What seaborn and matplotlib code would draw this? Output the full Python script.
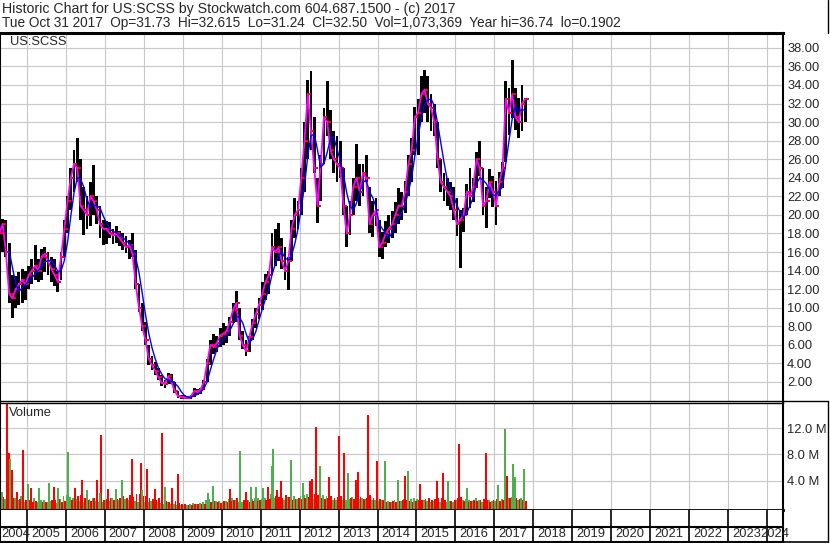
import pandas as pd
import matplotlib
matplotlib.use("Agg")
import matplotlib.pyplot as plt
from matplotlib.lines import Line2D
import seaborn as sns

# monthly bars, Apr 2004 .. Oct 2017
months = pd.period_range("2004-04", "2017-10", freq="M")

low = [
    15.5, 16.0, 15.5, 10.5, 8.9, 10.0, 10.3, 10.5, 10.8,
    12.0, 12.5, 13.0, 12.8, 13.0, 13.8, 13.5, 12.8, 12.3, 11.7, 13.0, 15.5,
    18.0, 20.5, 22.5, 23.5, 19.5, 17.8, 18.5, 18.8, 20.0, 19.0, 17.5, 16.8,
    16.9, 17.5, 16.9, 17.0, 16.6, 16.2, 15.9, 15.3, 15.5, 12.0, 9.5, 7.5,
    6.0, 3.8, 3.3, 2.8, 2.2, 1.6, 1.3, 1.8, 1.8, 0.8, 0.3, 0.2,
    0.19, 0.2, 0.2, 0.4, 0.6, 0.7, 1.1, 2.0, 3.8, 5.0, 5.2, 5.8,
    6.0, 6.2, 7.0, 8.3, 8.5, 6.5, 5.5, 4.8, 5.2, 6.5, 7.8, 8.8,
    9.8, 10.8, 11.5, 13.5, 14.5, 15.0, 14.2, 13.0, 11.9, 15.0, 17.5, 18.5,
    20.0, 22.5, 26.0, 27.0, 24.5, 19.1, 21.5, 25.5, 28.5, 26.0, 24.5, 23.5,
    24.0, 20.0, 16.5, 17.8, 20.0, 21.5, 21.0, 22.0, 23.5, 18.0, 17.6, 18.8,
    15.5, 15.3, 16.5, 17.0, 17.5, 18.0, 19.0, 19.5, 20.2, 22.0, 23.5, 26.5,
    26.5, 30.0, 31.0, 30.0, 29.0, 28.5, 25.0, 22.5, 21.5, 21.0, 20.5, 19.5,
    17.7, 14.3, 18.2, 20.0, 20.7, 21.4, 22.9, 24.2, 20.0, 18.6, 21.8, 20.8,
    18.9, 22.0, 22.9, 25.7, 28.6, 30.4, 29.2, 28.3, 29.0, 30.0,
]
high = [
    19.0, 19.6, 19.4, 17.0, 13.5, 13.4, 13.8, 14.2, 14.0,
    14.5, 15.2, 16.8, 15.3, 16.3, 16.5, 16.0, 15.5, 15.2, 14.0, 16.0, 19.5,
    22.0, 25.0, 27.0, 28.3, 26.0, 23.0, 22.0, 23.5, 25.4, 22.0, 21.0, 19.5,
    19.3, 19.2, 18.5, 18.8, 18.3, 18.0, 17.7, 17.3, 18.0, 16.2, 12.5, 10.5,
    8.5, 6.0, 4.8, 4.2, 3.5, 2.8, 2.2, 3.0, 2.9, 2.0, 1.0, 0.6,
    0.6, 0.5, 0.6, 1.4, 1.2, 1.4, 2.2, 4.5, 6.5, 7.2, 7.0, 7.8,
    8.3, 8.0, 9.0, 10.5, 11.8, 10.0, 7.5, 6.5, 7.0, 8.8, 10.0, 11.0,
    12.8, 13.6, 14.0, 18.0, 18.5, 19.1, 17.5, 16.5, 15.5, 19.5, 21.8, 21.5,
    25.0, 30.0, 34.5, 35.5, 30.5, 24.0, 26.5, 31.5, 34.4, 31.3, 29.0, 28.5,
    28.0, 25.0, 21.0, 21.5, 24.0, 27.6, 25.5, 25.5, 26.5, 23.0, 21.5, 21.8,
    19.5, 18.2, 19.3, 20.0, 20.4, 21.4, 22.9, 22.5, 23.6, 26.5, 28.3, 31.6,
    32.5, 35.0, 35.6, 35.0, 33.0, 32.0, 30.0, 26.0, 24.5, 24.0, 23.5, 23.0,
    21.8, 20.5, 20.7, 23.3, 25.0, 24.0, 26.8, 28.0, 25.0, 23.0, 24.9, 24.2,
    23.6, 24.6, 25.7, 34.4, 33.7, 36.74, 33.7, 32.6, 34.0, 32.6,
]
close = [
    18.0, 19.0, 16.0, 11.5, 11.0, 12.0, 12.5, 13.0, 12.5,
    13.5, 14.0, 14.5, 14.0, 15.5, 15.8, 15.0, 14.2, 13.5, 12.8, 15.5, 18.5,
    21.5, 24.0, 25.5, 25.0, 21.0, 20.5, 20.0, 22.0, 21.5, 20.5, 19.0, 18.5,
    18.5, 18.0, 17.8, 18.0, 17.5, 17.0, 16.5, 16.8, 15.8, 12.5, 10.0, 8.0,
    6.5, 4.5, 3.8, 3.2, 2.5, 1.9, 1.8, 2.6, 2.0, 1.0, 0.5, 0.35,
    0.3, 0.3, 0.45, 1.0, 0.9, 1.2, 2.0, 4.0, 6.0, 5.8, 6.2, 7.0,
    7.2, 7.5, 8.5, 9.8, 10.5, 7.0, 6.0, 5.3, 6.8, 8.3, 9.3, 10.3,
    11.5, 12.8, 13.5, 16.5, 16.0, 16.5, 15.0, 14.0, 15.0, 18.5, 20.0, 20.5,
    24.0, 28.0, 33.0, 29.0, 25.0, 21.0, 25.5, 30.5, 30.0, 27.0, 26.0, 25.5,
    25.0, 21.0, 18.0, 20.0, 23.0, 24.0, 22.5, 24.5, 24.0, 19.0, 20.0, 20.5,
    16.5, 17.0, 18.0, 18.5, 19.0, 20.0, 21.0, 21.0, 22.5, 25.5, 27.0, 30.5,
    31.0, 33.0, 33.5, 32.0, 31.5, 30.0, 26.0, 23.5, 23.0, 22.5, 22.0, 20.5,
    19.0, 19.5, 20.0, 22.5, 22.0, 23.0, 26.0, 25.0, 21.0, 21.5, 23.5, 22.5,
    21.0, 23.5, 25.0, 32.5, 31.0, 33.0, 30.5, 30.0, 32.0, 32.5,
]

# typical monthly volume (millions), up days / down days
vol_up = [
    1.8, 2.2, 1.2, 0.9, 1.0, 1.4, 1.1, 1.6, 0.8,
    0.9, 1.2, 1.3, 0.7, 1.1, 1.0, 0.8, 0.9, 0.7, 0.6, 1.2, 1.6,
    1.8, 1.5, 1.3, 1.2, 0.9, 0.8, 1.0, 1.2, 1.4, 0.9, 0.8, 0.7,
    1.0, 0.9, 1.3, 1.5, 1.1, 1.0, 1.2, 1.1, 1.4, 0.9, 0.8, 0.7,
    0.8, 0.7, 0.9, 0.8, 0.7, 0.6, 0.5, 0.8, 0.5, 0.4, 0.3, 0.3,
    0.3, 0.3, 0.4, 0.6, 0.5, 0.6, 0.7, 1.1, 1.2, 0.8, 0.9, 0.9,
    0.8, 0.9, 1.2, 1.3, 1.0, 0.8, 0.7, 0.8, 1.1, 1.2, 1.3, 1.4,
    1.2, 1.3, 1.4, 1.9, 1.4, 1.3, 1.0, 1.1, 1.5, 1.7, 1.6, 1.2,
    1.6, 1.8, 2.0, 1.5, 1.2, 1.1, 1.5, 1.8, 1.6, 1.1, 1.0, 1.1,
    1.3, 1.1, 1.0, 1.2, 1.5, 1.6, 1.2, 1.3, 1.2, 0.9, 1.0, 1.1,
    0.9, 1.0, 1.1, 0.9, 0.8, 1.0, 1.1, 0.9, 1.2, 1.3, 1.2, 1.4,
    1.2, 1.3, 1.1, 0.9, 0.8, 0.9, 0.7, 0.8, 0.9, 0.8, 0.9, 0.8,
    1.0, 1.2, 1.1, 1.2, 1.0, 0.9, 1.3, 1.0, 0.8, 0.9, 1.1, 0.9,
    0.9, 1.1, 1.2, 1.8, 1.4, 1.5, 1.1, 1.0, 1.3, 1.0,
]
vol_dn = [
    2.0, 1.5, 1.9, 2.3, 1.3, 0.9, 1.2, 1.0, 1.1,
    1.1, 0.8, 0.9, 1.0, 0.8, 0.7, 1.0, 1.1, 1.0, 1.2, 0.7, 0.9,
    1.0, 1.1, 1.2, 1.6, 1.8, 1.4, 1.0, 0.9, 1.3, 1.2, 1.3, 1.1,
    1.2, 1.4, 1.0, 1.2, 1.4, 1.6, 1.3, 1.8, 1.5, 2.0, 1.9, 1.6,
    1.6, 1.4, 1.2, 1.1, 1.3, 1.0, 0.9, 0.7, 0.8, 0.9, 0.6, 0.5,
    0.4, 0.3, 0.3, 0.4, 0.4, 0.5, 0.5, 0.6, 0.8, 0.9, 0.7, 0.6,
    0.9, 0.8, 0.9, 1.0, 1.4, 1.1, 1.0, 1.1, 0.8, 0.9, 0.9, 1.0,
    1.3, 1.1, 1.2, 1.4, 1.6, 1.5, 1.4, 1.8, 1.5, 1.1, 1.2, 1.3,
    1.2, 1.3, 1.5, 2.1, 1.9, 1.8, 1.3, 1.2, 1.4, 1.6, 1.4, 1.5,
    1.7, 1.9, 1.7, 1.3, 1.2, 1.4, 1.5, 1.2, 1.3, 1.8, 1.4, 1.1,
    1.2, 1.1, 0.8, 0.8, 0.9, 0.8, 0.9, 1.0, 1.0, 0.9, 0.8, 0.9,
    1.0, 1.1, 1.2, 1.3, 1.1, 1.2, 1.4, 1.3, 1.1, 1.0, 0.9, 1.1,
    1.4, 1.5, 0.9, 0.8, 0.9, 1.0, 0.9, 1.1, 1.2, 1.1, 0.8, 1.0,
    1.2, 0.9, 1.0, 1.1, 1.3, 1.2, 1.3, 1.2, 1.0, 0.9,
]

# single heavy-volume days (decimal year, millions, 1 = up day)
spike_year = [
    2004.495, 2004.538, 2004.555, 2004.606, 2004.751, 2004.905,
    2005.017, 2005.094, 2005.308, 2005.565, 2005.693, 2005.804,
    2006.061, 2006.241, 2006.421, 2006.532, 2006.789, 2006.874, 2006.891,
    2007.071, 2007.285, 2007.430, 2007.687, 2007.927, 2007.961,
    2008.081, 2008.279, 2008.458, 2008.535, 2008.731, 2008.869,
    2009.647, 2009.783,
    2010.204, 2010.460, 2010.614, 2010.743, 2010.871,
    2011.067, 2011.196, 2011.308, 2011.410, 2011.282, 2011.521, 2011.778,
    2012.078, 2012.266, 2012.309, 2012.412, 2012.522, 2012.761,
    2013.018, 2013.139, 2013.249, 2013.447, 2013.506, 2013.763, 2013.978,
    2014.191, 2014.525, 2014.697, 2014.774,
    2015.089, 2015.518, 2015.672, 2015.800,
    2016.090, 2016.304, 2016.784,
    2017.100, 2017.272, 2017.316, 2017.470, 2017.529, 2017.760,
]
spike_vol = [
    15.8, 8.3, 7.3, 5.6, 2.3, 8.7,
    3.5, 2.9, 2.9, 3.6, 3.0, 2.9,
    8.4, 2.9, 4.1, 2.6, 4.1, 2.1, 11.0,
    2.8, 2.7, 4.1, 7.3, 6.7, 2.6,
    5.8, 2.7, 11.3, 3.0, 2.9, 5.0,
    2.1, 3.2,
    2.7, 8.5, 2.3, 3.0, 3.1,
    2.9, 3.0, 8.8, 2.6, 6.2, 3.9, 7.2,
    3.7, 3.9, 4.2, 12.2, 6.2, 4.5,
    10.9, 8.3, 5.2, 4.1, 5.4, 14.0, 7.0,
    7.0, 4.1, 4.7, 5.5,
    3.5, 3.9, 5.2, 4.0,
    9.6, 2.9, 8.3,
    3.3, 11.9, 4.7, 6.6, 4.6, 5.8,
]
spike_up = [
    0, 0, 1, 0, 0, 0,
    1, 0, 1, 1, 0, 1,
    1, 0, 0, 1, 0, 1, 0,
    0, 1, 1, 0, 0, 1,
    0, 0, 0, 1, 0, 0,
    1, 1,
    0, 1, 0, 1, 1,
    1, 0, 1, 0, 1, 0, 1,
    1, 0, 0, 0, 1, 0,
    0, 0, 1, 0, 0, 0, 0,
    1, 1, 0, 1,
    0, 0, 0, 1,
    0, 1, 0,
    1, 1, 0, 1, 1, 1,
]

years = list(range(2004, 2025))
price_ticks = list(range(2, 40, 2))
vol_ticks = [4, 8, 12]

title_1 = "Historic Chart for US:SCSS by Stockwatch.com 604.687.1500 - (c) 2017"
title_2 = ("Tue Oct 31 2017  Op=31.73  Hi=32.615  Lo=31.24  Cl=32.50  "
           "Vol=1,073,369  Year hi=36.74  lo=0.1902")

df = pd.DataFrame({
    "t": months.year + (months.month - 0.5) / 12,
    "low": low, "high": high, "close": close,
    "vol_up": vol_up, "vol_dn": vol_dn,
})
df["ma_long"] = df["close"].rolling(4).mean()
spikes = pd.DataFrame({"t": spike_year, "vol": spike_vol, "up": spike_up})

sns.set_theme(style="white")
plt.rcParams["font.family"] = ["Liberation Sans", "DejaVu Sans"]

W, H = 830, 543
XMIN, XMAX = 2004.307, 2024.41
GRID = "#c8c8c8"
GREEN = "#4cb04c"


def box(x0, y0, x1, y1):
    return [x0 / W, 1 - y1 / H, (x1 - x0) / W, (y1 - y0) / H]


fig = plt.figure(figsize=(W / 100, H / 100), dpi=100, facecolor="white")
ax_p = fig.add_axes(box(0, 33, 783, 400.5))
ax_v = fig.add_axes(box(0, 402.5, 783, 509.5))
ax_y = fig.add_axes(box(0, 509.5, 783, 541.5))

# -----------------------------
# price panel
# -----------------------------
ax_p.bar(df["t"], df["high"] - df["low"], bottom=df["low"], width=0.072,
         color="black", linewidth=0, zorder=2)
ax_p.plot(df["t"] + 0.035, df["close"], ls="none", marker="_", color="red",
          ms=3, mew=1.4, zorder=3)
sns.lineplot(data=df, x="t", y="close", ax=ax_p, color="#ff00ff", lw=1.3, zorder=4)
sns.lineplot(data=df, x="t", y="ma_long", ax=ax_p, color="#0000ff", lw=1.0, zorder=5)

ax_p.set_xlim(XMIN, XMAX)
ax_p.set_ylim(0, 39.6)
ax_p.set_xticks(years[1:])
ax_p.set_yticks(price_ticks)
ax_p.set_yticklabels([f"{v:.2f}" for v in price_ticks])
ax_p.yaxis.tick_right()
ax_p.tick_params(axis="both", length=0, labelsize=9.3, labelbottom=False, pad=3)
ax_p.set_xlabel("")
ax_p.set_ylabel("")
ax_p.grid(True, color=GRID, lw=0.8)
ax_p.set_axisbelow(True)
ax_p.text(10 / 783, 1 - 9 / 367.5, "US:SCSS", transform=ax_p.transAxes,
          fontsize=9.3, va="center", ha="left")

# -----------------------------
# volume panel
# -----------------------------
ax_v.bar(df["t"] - 0.021, df["vol_up"] + 0.4, bottom=-0.4, width=0.046,
         color=GREEN, linewidth=0)
ax_v.bar(df["t"] + 0.021, df["vol_dn"] + 0.4, bottom=-0.4, width=0.046,
         color="red", linewidth=0)
for up, grp in spikes.groupby("up"):
    ax_v.bar(grp["t"], grp["vol"] + 0.4, bottom=-0.4, width=0.05,
             color=GREEN if up else "red", linewidth=0)

ax_v.set_xlim(XMIN, XMAX)
ax_v.set_ylim(-0.4, 15.94)
ax_v.set_xticks(years[1:])
ax_v.set_yticks(vol_ticks)
ax_v.set_yticklabels([f"{v:.1f} M" for v in vol_ticks])
ax_v.yaxis.tick_right()
ax_v.tick_params(axis="both", length=0, labelsize=9.3, labelbottom=False, pad=3)
ax_v.grid(True, color=GRID, lw=0.8)
ax_v.set_axisbelow(True)
ax_v.text(9 / 783, 1 - 10.5 / 107, "Volume", transform=ax_v.transAxes,
          fontsize=9.3, va="center", ha="left")

# -----------------------------
# year boxes
# -----------------------------
ax_y.set_xlim(XMIN, XMAX)
ax_y.set_ylim(0, 1)
ax_y.set_xticks([])
ax_y.set_yticks([])
ax_y.vlines(years[1:], 0, 1, color="black", lw=1.2)
ax_y.axhline((541.5 - 527) / 32, color="black", lw=1.5)
for yr in years:
    if yr == years[0]:
        ax_y.text(XMIN + 0.03, 0.22, str(yr), fontsize=9.3, va="center", ha="left")
    elif yr == years[-1]:
        ax_y.text(XMAX + 0.16, 0.22, str(yr), fontsize=9.3, va="center",
                  ha="right", clip_on=False)
    else:
        ax_y.text(yr + 0.1, 0.22, str(yr), fontsize=9.3, va="center", ha="left")

for ax in (ax_p, ax_v, ax_y):
    for s in ax.spines.values():
        s.set_color("black")
        s.set_visible(True)
ax_p.spines["top"].set_linewidth(2.2)
ax_p.spines["left"].set_linewidth(1.5)
ax_p.spines["right"].set_linewidth(1.5)
ax_p.spines["bottom"].set_linewidth(1.0)
ax_v.spines["top"].set_linewidth(1.0)
ax_v.spines["left"].set_linewidth(1.5)
ax_v.spines["right"].set_linewidth(1.5)
ax_v.spines["bottom"].set_linewidth(2.0)
ax_y.spines["top"].set_linewidth(0)
ax_y.spines["left"].set_linewidth(1.5)
ax_y.spines["right"].set_linewidth(1.5)
ax_y.spines["bottom"].set_linewidth(1.5)

# header text and outer frame
fig.text(2 / W, 1 - 9.5 / H, title_1, fontsize=10.2, va="center", ha="left")
fig.text(2 / W, 1 - 22.5 / H, title_2, fontsize=9.8, va="center", ha="left")


def fig_line(x0, y0, x1, y1, lw=1.0):
    fig.add_artist(Line2D([x0 / W, x1 / W], [1 - y0 / H, 1 - y1 / H],
                          color="black", lw=lw))


fig_line(827.5, 0, 827.5, 33, 1.0)
fig_line(827.5, 400.5, 827.5, 541.5, 1.0)
fig_line(783, 400.8, 828, 400.8, 1.0)
fig_line(0, 541.5, 828, 541.5, 1.2)

fig.savefig("out.png", dpi=100)
